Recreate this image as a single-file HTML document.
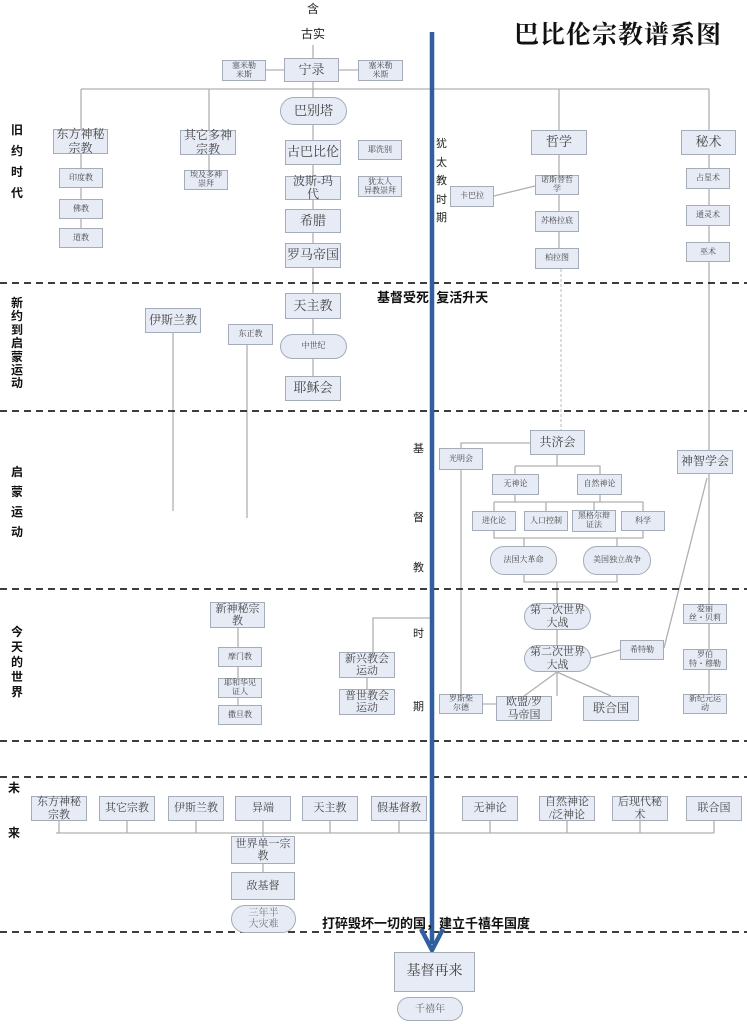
<!DOCTYPE html>
<html><head><meta charset="utf-8"><style>
body{margin:0;width:747px;height:1024px;background:#fff;position:relative;overflow:hidden;font-family:"Liberation Serif","Noto Serif CJK SC","Noto Sans CJK SC",serif;}
.b{position:absolute;box-sizing:border-box;background:#e6ebf5;border:1.3px solid #a4acb8;display:flex;align-items:center;justify-content:center;text-align:center;color:#444;line-height:1.1;}
.p{border-radius:14px;}
.l{position:absolute;font-family:"Liberation Sans","Noto Sans CJK SC",sans-serif;font-weight:bold;font-size:12px;color:#111;}
.v{position:absolute;font-family:"Liberation Sans","Noto Sans CJK SC",sans-serif;font-size:11px;color:#222;}
svg{position:absolute;left:0;top:0}
</style></head><body>
<svg width="747" height="1024">
<g stroke="#b0b0b0" stroke-width="1.3" fill="none">
<path d="M313 45V58M266 70H284M339 70H358M313 82V97M81 89H709M81 89V129M209 89V130M313 89V97M559 89V130M709 89V130"/>
<path d="M313 125V293M81 154V228M209 155V170M559 155V248M709 155V450M709 474V694M494 196L535 186"/>
<path d="M173 333V511M247 345V518M313 319V376"/>
<path d="M530 443H461V694M557 455V466M515 466H600V474M515 466V474M600 466V474M515 495V502M600 495V502M494 502H643V511M494 502V511M546 502V511M594 502V511M643 502V511M494 531V538H643V531M524 538V546M617 538V546M524 575V582H617V575M557 582V696M707 478L664 648M591 658L620 650M557 672L524 696M557 672L611 696M483 704H496"/>
<path d="M238 628V705M373 652V618H430M367 678V689"/>
<path d="M56 833H714M59 821V833M127 821V833M196 821V833M263 821V833M330 821V833M399 821V833M490 821V833M567 821V833M640 821V833M714 821V833M263 833V872"/>
</g>
<path d="M561 269V430" stroke="#b8b8b8" stroke-dasharray="3,2" fill="none"/>
<g stroke="#222" stroke-width="1.8" stroke-dasharray="7,5"><path d="M0 283H747M0 411H747M0 589H747M0 741H747M0 777H747M0 932H747"/></g>
<path d="M432 32V944" stroke="#2f5f9f" stroke-width="4.5"/>
<path d="M421 929L432 950L443 929" stroke="#2f5f9f" stroke-width="4.5" fill="none"/>
</svg>
<div class="v" style="left:307px;top:0;font-size:12px">含</div>
<div class="v" style="left:301px;top:25px;font-size:12px">古实</div>
<div style="position:absolute;left:514px;top:15px;font-size:25px;font-weight:bold;letter-spacing:1px;font-family:'Noto Serif CJK SC',serif;color:#111">巴比伦宗教谱系图</div>
<div class="b" style="left:222px;top:60px;width:44px;height:21px;font-size:8px">塞米勒<br>米斯</div>
<div class="b" style="left:284px;top:58px;width:55px;height:24px;font-size:13px">宁录</div>
<div class="b" style="left:358px;top:60px;width:45px;height:21px;font-size:8px">塞米勒<br>米斯</div>
<div class="b p" style="left:280px;top:97px;width:67px;height:28px;font-size:13px">巴别塔</div>
<div class="b" style="left:53px;top:129px;width:55px;height:25px;font-size:12px">东方神秘<br>宗教</div>
<div class="b" style="left:180px;top:130px;width:56px;height:25px;font-size:12px">其它多神<br>宗教</div>
<div class="b" style="left:285px;top:140px;width:56px;height:25px;font-size:13px">古巴比伦</div>
<div class="b" style="left:358px;top:140px;width:44px;height:20px;font-size:8px">耶洗别</div>
<div class="b" style="left:285px;top:176px;width:56px;height:24px;font-size:12px">波斯-玛<br>代</div>
<div class="b" style="left:358px;top:176px;width:44px;height:21px;font-size:8px">犹太人<br>异教崇拜</div>
<div class="b" style="left:285px;top:209px;width:56px;height:24px;font-size:13px">希腊</div>
<div class="b" style="left:285px;top:243px;width:56px;height:25px;font-size:13px">罗马帝国</div>
<div class="b" style="left:59px;top:168px;width:44px;height:20px;font-size:8px">印度教</div>
<div class="b" style="left:59px;top:199px;width:44px;height:20px;font-size:8px">佛教</div>
<div class="b" style="left:59px;top:228px;width:44px;height:20px;font-size:8px">道教</div>
<div class="b" style="left:184px;top:170px;width:44px;height:20px;font-size:8px">埃及多神<br>崇拜</div>
<div class="b" style="left:531px;top:130px;width:56px;height:25px;font-size:13px">哲学</div>
<div class="b" style="left:535px;top:175px;width:44px;height:20px;font-size:8px">诺斯替哲<br>学</div>
<div class="b" style="left:450px;top:186px;width:44px;height:21px;font-size:8px">卡巴拉</div>
<div class="b" style="left:535px;top:211px;width:44px;height:21px;font-size:8px">苏格拉底</div>
<div class="b" style="left:535px;top:248px;width:44px;height:21px;font-size:8px">柏拉图</div>
<div class="b" style="left:681px;top:130px;width:55px;height:25px;font-size:13px">秘术</div>
<div class="b" style="left:686px;top:168px;width:44px;height:21px;font-size:8px">占星术</div>
<div class="b" style="left:686px;top:205px;width:44px;height:21px;font-size:8px">通灵术</div>
<div class="b" style="left:686px;top:242px;width:44px;height:20px;font-size:8px">巫术</div>
<div class="v" style="left:436px;top:135px;width:12px;line-height:18.5px">犹太教时期</div>
<div class="l" style="left:11px;top:120px;width:14px;line-height:21px">旧约时代</div>
<div class="l" style="left:377px;top:287px;font-size:13px">基督受死 &nbsp;复活升天</div>
<div class="l" style="left:11px;top:297px;width:14px;line-height:13.4px">新约到启蒙运动</div>
<div class="b" style="left:285px;top:293px;width:56px;height:26px;font-size:13px">天主教</div>
<div class="b p" style="left:280px;top:334px;width:67px;height:25px;font-size:8px">中世纪</div>
<div class="b" style="left:285px;top:376px;width:56px;height:25px;font-size:13px">耶稣会</div>
<div class="b" style="left:145px;top:308px;width:56px;height:25px;font-size:12px">伊斯兰教</div>
<div class="b" style="left:228px;top:324px;width:45px;height:21px;font-size:8px">东正教</div>
<div class="l" style="left:11px;top:462px;width:14px;line-height:20px">启蒙运动</div>
<div class="v" style="left:413px;top:440px">基</div>
<div class="v" style="left:413px;top:509px">督</div>
<div class="v" style="left:413px;top:559px">教</div>
<div class="b" style="left:530px;top:430px;width:55px;height:25px;font-size:12px">共济会</div>
<div class="b" style="left:439px;top:448px;width:44px;height:22px;font-size:8px">光明会</div>
<div class="b" style="left:677px;top:450px;width:56px;height:24px;font-size:12px">神智学会</div>
<div class="b" style="left:492px;top:474px;width:47px;height:21px;font-size:8px">无神论</div>
<div class="b" style="left:577px;top:474px;width:45px;height:21px;font-size:8px">自然神论</div>
<div class="b" style="left:472px;top:511px;width:44px;height:20px;font-size:8px">进化论</div>
<div class="b" style="left:524px;top:511px;width:44px;height:20px;font-size:8px">人口控制</div>
<div class="b" style="left:572px;top:510px;width:44px;height:22px;font-size:8px">黑格尔辩<br>证法</div>
<div class="b" style="left:621px;top:511px;width:44px;height:20px;font-size:8px">科学</div>
<div class="b p" style="left:490px;top:546px;width:67px;height:29px;font-size:8px">法国大革命</div>
<div class="b p" style="left:583px;top:546px;width:68px;height:29px;font-size:8px">美国独立战争</div>
<div class="l" style="left:11px;top:625px;width:14px;line-height:15px">今天的世界</div>
<div class="v" style="left:413px;top:625px">时</div>
<div class="v" style="left:413px;top:698px">期</div>
<div class="b" style="left:210px;top:602px;width:55px;height:26px;font-size:11px">新神秘宗<br>教</div>
<div class="b" style="left:218px;top:647px;width:44px;height:20px;font-size:8px">摩门教</div>
<div class="b" style="left:218px;top:678px;width:44px;height:20px;font-size:8px">耶和华见<br>证人</div>
<div class="b" style="left:218px;top:705px;width:44px;height:20px;font-size:8px">撒旦教</div>
<div class="b" style="left:339px;top:652px;width:56px;height:26px;font-size:11px">新兴教会<br>运动</div>
<div class="b" style="left:339px;top:689px;width:56px;height:26px;font-size:11px">普世教会<br>运动</div>
<div class="b p" style="left:524px;top:603px;width:67px;height:27px;font-size:11px">第一次世界<br>大战</div>
<div class="b p" style="left:524px;top:645px;width:67px;height:27px;font-size:11px">第二次世界<br>大战</div>
<div class="b" style="left:620px;top:640px;width:44px;height:20px;font-size:8px">希特勒</div>
<div class="b" style="left:683px;top:604px;width:44px;height:20px;font-size:8px">爱丽<br>丝・贝莉</div>
<div class="b" style="left:683px;top:649px;width:44px;height:21px;font-size:8px">罗伯<br>特・穆勒</div>
<div class="b" style="left:683px;top:694px;width:44px;height:20px;font-size:8px">新纪元运<br>动</div>
<div class="b" style="left:439px;top:694px;width:44px;height:20px;font-size:8px">罗斯柴<br>尔德</div>
<div class="b" style="left:496px;top:696px;width:56px;height:25px;font-size:11px">欧盟/罗<br>马帝国</div>
<div class="b" style="left:583px;top:696px;width:56px;height:25px;font-size:12px">联合国</div>
<div class="l" style="left:8px;top:779px">未</div>
<div class="l" style="left:8px;top:824px">来</div>
<div class="b" style="left:31px;top:796px;width:56px;height:25px;font-size:11px">东方神秘<br>宗教</div>
<div class="b" style="left:99px;top:796px;width:56px;height:25px;font-size:11px">其它宗教</div>
<div class="b" style="left:168px;top:796px;width:56px;height:25px;font-size:11px">伊斯兰教</div>
<div class="b" style="left:235px;top:796px;width:56px;height:25px;font-size:11px">异端</div>
<div class="b" style="left:302px;top:796px;width:56px;height:25px;font-size:11px">天主教</div>
<div class="b" style="left:371px;top:796px;width:56px;height:25px;font-size:11px">假基督教</div>
<div class="b" style="left:462px;top:796px;width:56px;height:25px;font-size:11px">无神论</div>
<div class="b" style="left:539px;top:796px;width:56px;height:25px;font-size:11px">自然神论<br>/泛神论</div>
<div class="b" style="left:612px;top:796px;width:56px;height:25px;font-size:11px">后现代秘<br>术</div>
<div class="b" style="left:686px;top:796px;width:56px;height:25px;font-size:11px">联合国</div>
<div class="b" style="left:231px;top:836px;width:64px;height:28px;font-size:11px">世界单一宗<br>教</div>
<div class="b" style="left:231px;top:872px;width:64px;height:28px;font-size:11px">敌基督</div>
<div class="b p" style="left:231px;top:905px;width:65px;height:28px;font-size:10px;color:#777">三年半<br>大灾难</div>
<div class="l" style="left:322px;top:913px;font-size:13px">打碎毁坏一切的国，建立千禧年国度</div>
<div class="b" style="left:394px;top:952px;width:81px;height:40px;font-size:14px">基督再来</div>
<div class="b p" style="left:397px;top:997px;width:66px;height:24px;font-size:10px;color:#666">千禧年</div>
</body></html>
